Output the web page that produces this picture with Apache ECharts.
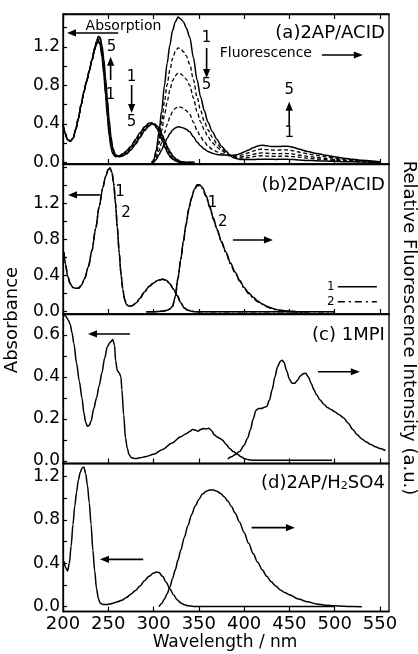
<!DOCTYPE html>
<html>
<head>
<meta charset="utf-8">
<script src="https://cdn.jsdelivr.net/npm/echarts@6/dist/echarts.min.js"></script>
<style>
  html, body { margin: 0; padding: 0; background: #fff; }
  #chart { width: 418px; height: 654px; }
</style>
</head>
<body>
<div id="chart"></div>
<script>
// ---------- wavelength axis ----------
const wavelengthTicks = [200, 250, 300, 350, 400, 450, 500, 550];

// ---------- (a) 2AP/ACID : absorption, curves 1-5 ----------
const absA_nm = [200,202,205,208,211,214,217,220,223,226,229,232,235,237,239,241,243,245,247,249,251,253,255,258,262,266,270,275,280,285,290,295,298,301,304,307,310,313,316,319,322,326,330,335,340,345];
const absA_1 = [0.40,0.31,0.24,0.22,0.25,0.34,0.46,0.60,0.73,0.84,0.95, 1.06,1.17,1.23,1.26,1.22,1.10,0.92,0.70,0.47,0.28,0.15,0.09, 0.06,0.07,0.09,0.12,0.17,0.24,0.31,0.37,0.41,0.41,0.39,0.35, 0.29,0.22,0.15,0.09,0.05,0.03,0.01,0.00,0.00,0.00,0.00];
const absA_2 = [0.40,0.31,0.24,0.22,0.25,0.34,0.46,0.60,0.73,0.84,0.95, 1.06,1.17,1.24,1.27,1.24,1.13,0.96,0.74,0.52,0.32,0.18,0.10, 0.06,0.07,0.08,0.11,0.16,0.23,0.30,0.36,0.40,0.41,0.39,0.36, 0.30,0.24,0.17,0.10,0.06,0.03,0.01,0.00,0.00,0.00,0.00];
const absA_3 = [0.40,0.31,0.24,0.22,0.25,0.34,0.46,0.60,0.73,0.84,0.95, 1.06,1.18,1.24,1.28,1.26,1.16,1.00,0.79,0.56,0.36,0.21,0.12, 0.07,0.06,0.08,0.10,0.15,0.21,0.28,0.35,0.39,0.40,0.40,0.37, 0.32,0.25,0.18,0.12,0.07,0.04,0.02,0.00,0.00,0.00,0.00];
const absA_4 = [0.40,0.31,0.24,0.22,0.25,0.34,0.46,0.60,0.73,0.84,0.95, 1.07,1.19,1.25,1.30,1.28,1.19,1.04,0.84,0.61,0.40,0.24,0.13, 0.07,0.06,0.07,0.09,0.14,0.20,0.27,0.34,0.38,0.40,0.40,0.37, 0.33,0.26,0.20,0.13,0.09,0.05,0.02,0.01,0.00,0.00,0.00];
const absA_5 = [0.40,0.31,0.24,0.22,0.25,0.34,0.46,0.60,0.73,0.84,0.95, 1.07,1.19,1.26,1.31,1.30,1.22,1.08,0.88,0.66,0.44,0.27,0.15, 0.08,0.06,0.07,0.09,0.13,0.19,0.26,0.33,0.38,0.40,0.40,0.38, 0.34,0.28,0.21,0.15,0.10,0.06,0.03,0.01,0.00,0.00,0.00];

// ---------- (a) 2AP/ACID : fluorescence, curves 1-5 ----------
const fluA_nm = [298,300,303,306,309,312,315,318,321,324,327,330,333,336,340,344,348,352,356,360,365,370,375,380,384,388,392,396,400,405,410,415,420,425,430,435,440,445,450,455,460,470,480,490,500,510,520,530,540,550];
const fluA_1 = [0,0.02,0.13,0.32,0.54,0.80,1.03,1.22,1.37,1.46,1.51,1.49,1.46,1.40, 1.30,1.09,0.86,0.68,0.54,0.42,0.32,0.24,0.17,0.12,0.08,0.05,0.04,0.03, 0.03,0.03,0.03,0.033,0.035,0.034,0.033,0.032,0.033,0.033,0.032,0.030,0.027, 0.022,0.018,0.015,0.012,0.009,0.007,0.005,0.003,0.002];
const fluA_2 = [0,0.015,0.10,0.25,0.43,0.63,0.81,0.96,1.08,1.15,1.19,1.18,1.15,1.11, 1.02,0.86,0.68,0.54,0.43,0.34,0.26,0.195,0.146,0.108,0.076,0.057,0.047,0.045, 0.047,0.050,0.060,0.067,0.070,0.067,0.065,0.064,0.065,0.066,0.064,0.060,0.055, 0.045,0.036,0.029,0.023,0.018,0.013,0.009,0.006,0.004];
const fluA_3 = [0,0.012,0.08,0.195,0.335,0.49,0.63,0.75,0.85,0.90,0.93,0.92,0.90,0.865, 0.80,0.67,0.53,0.42,0.34,0.266,0.205,0.159,0.123,0.097,0.073,0.061,0.056,0.057, 0.064,0.072,0.085,0.095,0.100,0.096,0.093,0.092,0.093,0.094,0.092,0.086,0.078, 0.064,0.052,0.042,0.033,0.025,0.019,0.013,0.009,0.005];
const fluA_4 = [0,0.008,0.05,0.122,0.209,0.307,0.394,0.47,0.528,0.563,0.58,0.574,0.563,0.539, 0.499,0.419,0.333,0.265,0.215,0.171,0.136,0.111,0.093,0.081,0.069,0.066,0.068,0.075, 0.086,0.101,0.119,0.133,0.140,0.134,0.130,0.129,0.130,0.132,0.129,0.120,0.109, 0.090,0.073,0.059,0.046,0.035,0.027,0.018,0.013,0.007];
const fluA_5 = [0,0.005,0.032,0.078,0.133,0.196,0.252,0.30,0.337,0.359,0.37,0.366,0.359,0.344, 0.318,0.268,0.214,0.171,0.140,0.115,0.096,0.084,0.079,0.077,0.073,0.075,0.081,0.093, 0.110,0.130,0.153,0.171,0.180,0.173,0.167,0.166,0.167,0.169,0.166,0.155,0.140, 0.115,0.094,0.076,0.059,0.045,0.034,0.023,0.016,0.009];

// ---------- (b) 2DAP/ACID : curves 1 and 2 ----------
const absB_nm = [201,203,205,208,211,214,217,220,224,228,232,236,240,244,247,250,252,254,256,258,260,262,264,266,268,270,273,277,281,285,290,295,300,305,310,314,318,322,326,330,334,338,342,346,360,400,450,500];
const absB_1 = [0.66,0.52,0.40,0.31,0.27,0.26,0.26,0.29, 0.37,0.50,0.68,0.92,1.17,1.38,1.50,1.58, 1.60,1.55,1.42,1.20,0.93,0.66,0.42,0.25, 0.14,0.08,0.06,0.07,0.10,0.15,0.22,0.28, 0.32,0.35,0.36,0.35,0.31,0.25,0.18,0.10, 0.04,0.015,0.005,0,0,0,0,0];
const absB_2 = [0.66,0.52,0.40,0.31,0.27,0.26,0.26,0.29, 0.37,0.50,0.68,0.92,1.17,1.38,1.50,1.58, 1.59,1.55,1.43,1.21,0.94,0.67,0.43,0.26, 0.14,0.08,0.06,0.07,0.10,0.15,0.22,0.28, 0.32,0.35,0.36,0.35,0.31,0.25,0.18,0.10, 0.04,0.015,0.005,0,0,0,0,0];
const fluB_nm = [292,300,310,315,318,321,324,327,330,333,336,339,342,345,348,351,354,358,362,366,370,375,380,385,390,395,400,405,410,415,420,425,430,435,440,450,460,470];
const fluB_1 = [0,0,0.005,0.015,0.03,0.06,0.17,0.38, 0.58,0.79,0.98,1.15,1.27,1.36,1.41,1.41, 1.38,1.29,1.17,1.04,0.92,0.78,0.66,0.54, 0.44,0.35,0.27,0.21,0.16,0.12,0.085,0.06, 0.04,0.025,0.015,0.005,0,0];
const fluB_2 = [0,0,0.005,0.015,0.03,0.06,0.17,0.37, 0.57,0.78,0.97,1.14,1.26,1.35,1.40,1.40, 1.37,1.28,1.16,1.03,0.91,0.77,0.65,0.53, 0.43,0.34,0.26,0.20,0.15,0.11,0.08,0.055, 0.037,0.023,0.014,0.005,0,0];

// ---------- (c) 1MPI ----------
const absC_nm = [200,203,206,208,210,212,215,218,221,223,225,227,229,231,234,237,240,243,246,249,252,255,257,258,260,262,264,265,267,269,271,273,276,280,285,292,300,310,320,330,336,340,343,346,349,352,355,358,361,364,367,370,373,376,380,384,388,392,396,400,405,410,420,450,497];
const absC = [0.70,0.69,0.67,0.65,0.61,0.56,0.465,0.38,0.30,0.23, 0.185,0.165,0.17,0.19,0.25,0.30,0.36,0.42,0.49,0.545, 0.565,0.578,0.55,0.48,0.43,0.42,0.40,0.34,0.22,0.11, 0.06,0.03,0.015,0.012,0.015,0.022,0.032,0.055,0.085,0.115, 0.13,0.14,0.15,0.148,0.142,0.15,0.155,0.152,0.156,0.145, 0.125,0.115,0.108,0.10,0.08,0.06,0.045,0.035,0.022,0.012, 0.006,0.004,0.003,0.003,0.003];
const fluC_nm = [382,386,390,395,400,404,407,410,413,416,419,422,425,428,431,434,437,440,442,444,447,450,453,456,459,462,465,468,471,474,477,480,484,488,492,496,500,505,510,515,520,525,530,535,540,545,550,556];
const fluC = [0.01,0.02,0.03,0.045,0.075,0.11,0.15,0.20,0.24,0.25, 0.25,0.255,0.26,0.29,0.34,0.40,0.45,0.475,0.48,0.47, 0.43,0.39,0.37,0.37,0.385,0.405,0.415,0.418,0.40,0.37, 0.34,0.315,0.29,0.27,0.255,0.245,0.235,0.22,0.205,0.18, 0.15,0.125,0.105,0.09,0.078,0.068,0.06,0.05];

// ---------- (d) 2AP/H2SO4 ----------
const absD_nm = [201,203,205,207,209,211,213,215,217,219,221,223,225,227,229,231,233,235,237,239,241,244,248,252,256,260,265,270,275,280,285,290,295,300,303,306,310,314,318,322,326,330,334,338,344,360,500];
const absD = [0.42,0.36,0.33,0.40,0.56,0.76,0.93,1.06,1.17,1.24, 1.28,1.29,1.23,1.12,0.96,0.76,0.52,0.33,0.17,0.075, 0.035,0.02,0.02,0.025,0.035,0.045,0.06,0.085,0.115,0.15, 0.19,0.24,0.28,0.31,0.32,0.315,0.28,0.225,0.165,0.11, 0.065,0.035,0.018,0.008,0.003,0.002,0.002];
const fluD_nm = [306,309,312,315,318,321,324,327,330,334,338,342,346,350,354,358,362,366,370,374,378,382,386,390,395,400,405,410,415,420,425,430,435,440,445,450,460,470,480,490,500,510,520,530];
const fluD = [0,0.03,0.07,0.12,0.18,0.26,0.34,0.43,0.52,0.64, 0.75,0.85,0.93,0.99,1.04,1.065,1.078,1.077,1.065,1.045, 1.015,0.975,0.925,0.865,0.78,0.685,0.585,0.49,0.41,0.34, 0.28,0.23,0.19,0.155,0.13,0.11,0.07,0.045,0.025,0.014, 0.008,0.004,0.002,0];

// ---------- vertical tick values per panel ----------
const yLabelsA = [0, 0.4, 0.8, 1.2];
const yTicksA  = [0, 0.2, 0.4, 0.6, 0.8, 1.0, 1.2, 1.4];
const yLabelsB = [0, 0.4, 0.8, 1.2];
const yTicksB  = [0, 0.2, 0.4, 0.6, 0.8, 1.0, 1.2, 1.4, 1.6];
const yLabelsC = [0, 0.2, 0.4, 0.6];
const yTicksC  = [0, 0.1, 0.2, 0.3, 0.4, 0.5, 0.6];
const yLabelsD = [0, 0.4, 0.8, 1.2];
const yTicksD  = [0, 0.2, 0.4, 0.6, 0.8, 1.0, 1.2];

// ---------- layout ----------
const FONT = '"DejaVu Sans", "Liberation Sans", sans-serif';
const INK = '#000';
const panels = [
  { top: 14,    height: 150,   min: -0.0156, max: 1.542, labels: yLabelsA, ticks: yTicksA },
  { top: 164,   height: 150,   min: -0.0256, max: 1.641, labels: yLabelsB, ticks: yTicksB },
  { top: 314,   height: 149.5, min: -0.0119, max: 0.700, labels: yLabelsC, ticks: yTicksC },
  { top: 463.5, height: 148,   min: -0.0443, max: 1.322, labels: yLabelsD, ticks: yTicksD }
];

const pairs = (xs, ys) => xs.map((x, i) => [x, ys[i]]);

const SOLID = 'solid';
const DOTTED = [3, 2];
const DASHED = [4, 2.5];
const DASHDOT = [6, 3, 1.5, 3];

function curve(g, xs, ys, dash, width) {
  return {
    type: 'line', xAxisIndex: g, yAxisIndex: g,
    data: pairs(xs, ys),
    showSymbol: false, symbol: 'none',
    smooth: 0.3, smoothMonotone: 'x',
    silent: true, clip: true,
    lineStyle: { color: INK, width: width || 1.5, type: dash }
  };
}

const series = [
  // (a) absorption
  curve(0, absA_nm, absA_1, SOLID),
  curve(0, absA_nm, absA_2, DOTTED, 1.3),
  curve(0, absA_nm, absA_3, DOTTED, 1.3),
  curve(0, absA_nm, absA_4, DOTTED, 1.3),
  curve(0, absA_nm, absA_5, SOLID),
  // (a) fluorescence
  curve(0, fluA_nm, fluA_1, SOLID),
  curve(0, fluA_nm, fluA_2, DASHED, 1.3),
  curve(0, fluA_nm, fluA_3, DASHED, 1.3),
  curve(0, fluA_nm, fluA_4, DASHED, 1.3),
  curve(0, fluA_nm, fluA_5, SOLID),
  // (b)
  curve(1, absB_nm, absB_1, SOLID),
  curve(1, absB_nm, absB_2, DASHDOT),
  curve(1, fluB_nm, fluB_1, SOLID),
  curve(1, fluB_nm, fluB_2, DASHDOT),
  // (c)
  curve(2, absC_nm, absC, SOLID),
  curve(2, fluC_nm, fluC, SOLID),
  // (d)
  curve(3, absD_nm, absD, SOLID),
  curve(3, fluD_nm, fluD, SOLID)
];

const grids = panels.map(p => ({
  left: 63, right: 29, top: p.top, height: p.height,
  show: true, borderColor: INK, borderWidth: 1.3, backgroundColor: 'transparent'
}));

const xAxes = panels.map((p, i) => ({
  type: 'value', gridIndex: i, min: 200, max: 560,
  axisLine: { show: true, onZero: false, lineStyle: { color: INK, width: 1.3 } },
  axisTick: { show: true, inside: true, length: 5, customValues: wavelengthTicks, lineStyle: { color: INK, width: 1.2 } },
  axisLabel: { show: i === 3, customValues: wavelengthTicks, color: INK, fontFamily: FONT, fontSize: 18, margin: 4 },
  splitLine: { show: false }
}));
// top frame of panel (a) carries its own ticks
xAxes.push({
  type: 'value', gridIndex: 0, position: 'top', min: 200, max: 560,
  axisLine: { show: true, onZero: false, lineStyle: { color: INK, width: 1.3 } },
  axisTick: { show: true, inside: true, length: 5, customValues: wavelengthTicks, lineStyle: { color: INK, width: 1.2 } },
  axisLabel: { show: false },
  splitLine: { show: false }
});

const yAxes = panels.map((p, i) => ({
  type: 'value', gridIndex: i, min: p.min, max: p.max,
  axisLine: { show: true, onZero: false, lineStyle: { color: INK, width: 1.3 } },
  axisTick: { show: true, inside: true, length: 4, customValues: p.ticks, lineStyle: { color: INK, width: 1.2 } },
  axisLabel: {
    show: true, customValues: p.labels, color: INK, fontFamily: FONT, fontSize: 17, margin: 3,
    formatter: v => Number(v).toFixed(1)
  },
  splitLine: { show: false }
}));

const chart = echarts.init(document.getElementById('chart'));
chart.setOption({
  animation: false,
  backgroundColor: '#fff',
  textStyle: { fontFamily: FONT, color: INK },
  grid: grids,
  xAxis: xAxes,
  yAxis: yAxes,
  series: series
});

// ---------- annotations, placed in data coordinates ----------
const notes = [
  // (a)
  { g: 0, kind: 'text', at: [266.8, 1.417], text: 'Absorption', size: 14 },
  { g: 0, kind: 'arrow', from: [261, 1.345], to: [204.4, 1.345] },
  { g: 0, kind: 'text', at: [253.7, 1.20], text: '5', size: 15 },
  { g: 0, kind: 'arrow', from: [252.6, 0.857], to: [252.6, 1.099] },
  { g: 0, kind: 'text', at: [252.6, 0.70], text: '1', size: 15 },
  { g: 0, kind: 'text', at: [275.8, 0.89], text: '1', size: 15 },
  { g: 0, kind: 'arrow', from: [275.8, 0.805], to: [275.8, 0.514] },
  { g: 0, kind: 'text', at: [275.8, 0.424], text: '5', size: 15 },
  { g: 0, kind: 'text', at: [358.6, 1.29], text: '1', size: 15 },
  { g: 0, kind: 'arrow', from: [358.6, 1.189], to: [358.6, 0.877] },
  { g: 0, kind: 'text', at: [358.6, 0.805], text: '5', size: 15 },
  { g: 0, kind: 'text', at: [424, 1.134], text: 'Fluorescence', size: 14 },
  { g: 0, kind: 'arrow', from: [485.9, 1.116], to: [531.1, 1.116] },
  { g: 0, kind: 'text', at: [449.8, 0.753], text: '5', size: 15 },
  { g: 0, kind: 'arrow', from: [449.8, 0.372], to: [449.8, 0.631] },
  { g: 0, kind: 'text', at: [449.8, 0.303], text: '1', size: 15 },
  { g: 0, kind: 'title', at: [555.4, 1.345], text: '(a)2AP/ACID' },
  // (b)
  { g: 1, kind: 'arrow', from: [240.8, 1.297], to: [205.5, 1.297] },
  { g: 1, kind: 'arrow', from: [387.6, 0.797], to: [431.8, 0.797] },
  { g: 1, kind: 'text', at: [262.9, 1.333], text: '1', size: 15 },
  { g: 1, kind: 'text', at: [269.5, 1.097], text: '2', size: 15 },
  { g: 1, kind: 'text', at: [365.2, 1.204], text: '1', size: 15 },
  { g: 1, kind: 'text', at: [376.3, 1.0], text: '2', size: 15 },
  { g: 1, kind: 'title', at: [555.4, 1.408], text: '(b)2DAP/ACID' },
  { g: 1, kind: 'key', at: [495.8, 0.278], text: '1', span: [503.5, 546.6], dash: null },
  { g: 1, kind: 'key', at: [495.8, 0.111], text: '2', span: [503.5, 546.6], dash: [7, 4, 2, 4] },
  // (c)
  { g: 2, kind: 'arrow', from: [273.9, 0.605], to: [227.6, 0.605] },
  { g: 2, kind: 'arrow', from: [481.5, 0.425], to: [527.8, 0.425] },
  { g: 2, kind: 'title', at: [555.4, 0.60], text: '(c) 1MPI' },
  // (d)
  { g: 3, kind: 'arrow', from: [288.6, 0.437], to: [240.8, 0.437] },
  { g: 3, kind: 'arrow', from: [408.3, 0.73], to: [456.1, 0.73] },
  { g: 3, kind: 'title', at: [555.4, 1.142], text: '(d)2AP/H{s|2}SO4' }
];

function textEl(x, y, text, size, align, rotation, rich) {
  const style = {
    text: text, fill: INK, font: size + 'px ' + FONT,
    align: align || 'center', verticalAlign: 'middle',
    textAlign: align || 'center', textVerticalAlign: 'middle'
  };
  if (rich) style.rich = rich;
  return { type: 'text', x: x, y: y, rotation: rotation || 0, silent: true, style: style };
}

function arrowEls(p1, p2) {
  const dx = p2[0] - p1[0], dy = p2[1] - p1[1];
  const len = Math.hypot(dx, dy), ux = dx / len, uy = dy / len;
  const headLen = 9, headHalf = 3.6;
  const bx = p2[0] - ux * headLen, by = p2[1] - uy * headLen;
  return [
    { type: 'line', silent: true, shape: { x1: p1[0], y1: p1[1], x2: bx + ux, y2: by + uy },
      style: { stroke: INK, lineWidth: 1.6 } },
    { type: 'polygon', silent: true,
      shape: { points: [[p2[0], p2[1]], [bx - uy * headHalf, by + ux * headHalf], [bx + uy * headHalf, by - ux * headHalf]] },
      style: { fill: INK } }
  ];
}

const toPx = (g, v) => chart.convertToPixel({ gridIndex: g }, v);
const graphics = [];
notes.forEach(n => {
  if (n.kind === 'text') {
    const p = toPx(n.g, n.at);
    graphics.push(textEl(p[0], p[1], n.text, n.size));
  } else if (n.kind === 'title') {
    const p = toPx(n.g, n.at);
    graphics.push(textEl(p[0], p[1], n.text, 18, 'right', 0,
      { s: { fontSize: 11, fontFamily: FONT, verticalAlign: 'bottom', lineHeight: 12 } }));
  } else if (n.kind === 'arrow') {
    graphics.push(...arrowEls(toPx(n.g, n.from), toPx(n.g, n.to)));
  } else if (n.kind === 'key') {
    const p = toPx(n.g, n.at);
    const a = toPx(n.g, [n.span[0], n.at[1]]);
    const b = toPx(n.g, [n.span[1], n.at[1]]);
    graphics.push(textEl(p[0], p[1], n.text, 12));
    graphics.push({ type: 'line', silent: true, shape: { x1: a[0], y1: a[1], x2: b[0], y2: b[1] },
      style: { stroke: INK, lineWidth: 1.5, lineDash: n.dash || null } });
  }
});

// axis titles
graphics.push(textEl(225, 643, 'Wavelength / nm', 17));
graphics.push(textEl(12, 320, 'Absorbance', 18, 'center', Math.PI / 2));
graphics.push(textEl(409, 328, 'Relative Fluorescence Intensity (a.u.)', 18, 'center', -Math.PI / 2));

chart.setOption({ graphic: graphics });
</script>
</body>
</html>
